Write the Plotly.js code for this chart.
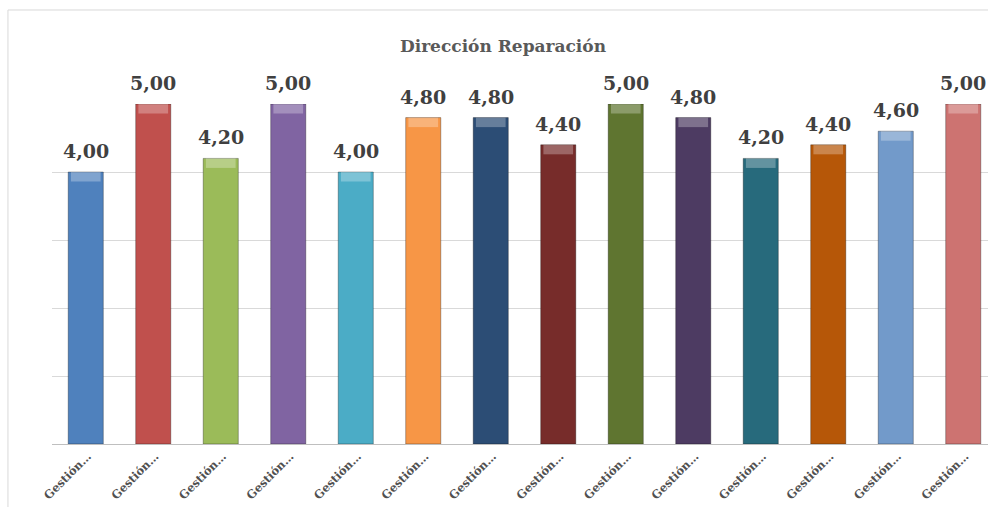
<!DOCTYPE html>
<html>
<head>
<meta charset="utf-8">
<script src="https://cdn.plot.ly/plotly-3.0.1.min.js"></script>
<style>
  html, body { margin: 0; padding: 0; background: #ffffff; overflow: hidden; }
  #chart { width: 1000px; height: 520px; }
</style>
</head>
<body>
<div id="chart"></div>
<script>
// Scores per management area (Dirección Reparación)
const categories = [
  "Gestión 1", "Gestión 2", "Gestión 3", "Gestión 4", "Gestión 5",
  "Gestión 6", "Gestión 7", "Gestión 8", "Gestión 9", "Gestión 10",
  "Gestión 11", "Gestión 12", "Gestión 13", "Gestión 14"
];
const tickLabels = [
  "Gestión…", "Gestión…", "Gestión…", "Gestión…", "Gestión…",
  "Gestión…", "Gestión…", "Gestión…", "Gestión…", "Gestión…",
  "Gestión…", "Gestión…", "Gestión…", "Gestión…"
];
const scores = [4.00, 5.00, 4.20, 5.00, 4.00, 4.80, 4.80, 4.40, 5.00, 4.80, 4.20, 4.40, 4.60, 5.00];
const barColors = [
  "#4F81BD", "#C0504D", "#9BBB59", "#8064A2", "#4BACC6", "#F79646", "#2C4D75",
  "#772C2A", "#5F7530", "#4D3B62", "#276A7C", "#B65708", "#729ACA", "#CD7371"
];

const fmt = v => v.toFixed(2).replace(".", ",");
const capHeight = 0.14;

const mainBars = {
  type: "bar",
  x: categories,
  y: scores,
  width: 0.52,
  marker: {
    color: barColors,
    line: { color: "rgba(0,0,0,0.3)", width: 1 }
  },
  hoverinfo: "none"
};

// lighter bevel at the top of each bar
const caps = {
  type: "bar",
  x: categories,
  y: scores.map(() => capHeight),
  base: scores.map(v => v - capHeight),
  width: 0.44,
  marker: { color: "rgba(255,255,255,0.28)", line: { width: 0 } },
  hoverinfo: "none"
};

// value labels floating above each bar
const valueLabels = categories.map((c, i) => ({
  x: c,
  y: scores[i],
  xref: "x", yref: "y",
  text: "<b>" + fmt(scores[i]) + "</b>",
  showarrow: false,
  yanchor: "bottom",
  yshift: 8,
  font: { family: "DejaVu Serif", size: 19, color: "#404040" }
}));

const layout = {
  width: 1000,
  height: 520,
  margin: { l: 52, r: 3, t: 104, b: 76 },
  paper_bgcolor: "#ffffff",
  plot_bgcolor: "#ffffff",
  showlegend: false,
  barmode: "overlay",
  title: {
    text: "<b>Dirección Reparación</b>",
    font: { family: "DejaVu Serif", size: 17, color: "#595959" },
    x: 0.503, xanchor: "center",
    y: 0.911, yanchor: "middle"
  },
  xaxis: {
    type: "category",
    tickvals: categories,
    ticktext: tickLabels,
    tickangle: -45,
    ticklabelshift: 2,
    tickfont: { family: "DejaVu Serif", size: 11.5, color: "#505050", weight: "bold" },
    showline: true,
    linecolor: "#bfbfbf",
    linewidth: 1,
    ticks: "",
    showgrid: false
  },
  yaxis: {
    range: [0, 5],
    dtick: 1,
    showticklabels: false,
    showgrid: true,
    gridcolor: "#d9d9d9",
    zeroline: false,
    ticks: ""
  },
  annotations: valueLabels,
  shapes: [{
    type: "rect",
    xref: "paper", yref: "paper",
    x0: -0.0466, x1: 1.2,
    y0: -0.5, y1: 1.2765,
    line: { color: "#d9d9d9", width: 1 },
    fillcolor: "rgba(0,0,0,0)",
    layer: "below"
  }]
};

Plotly.newPlot("chart", [mainBars, caps], layout, { displayModeBar: false, staticPlot: true });
</script>
</body>
</html>
